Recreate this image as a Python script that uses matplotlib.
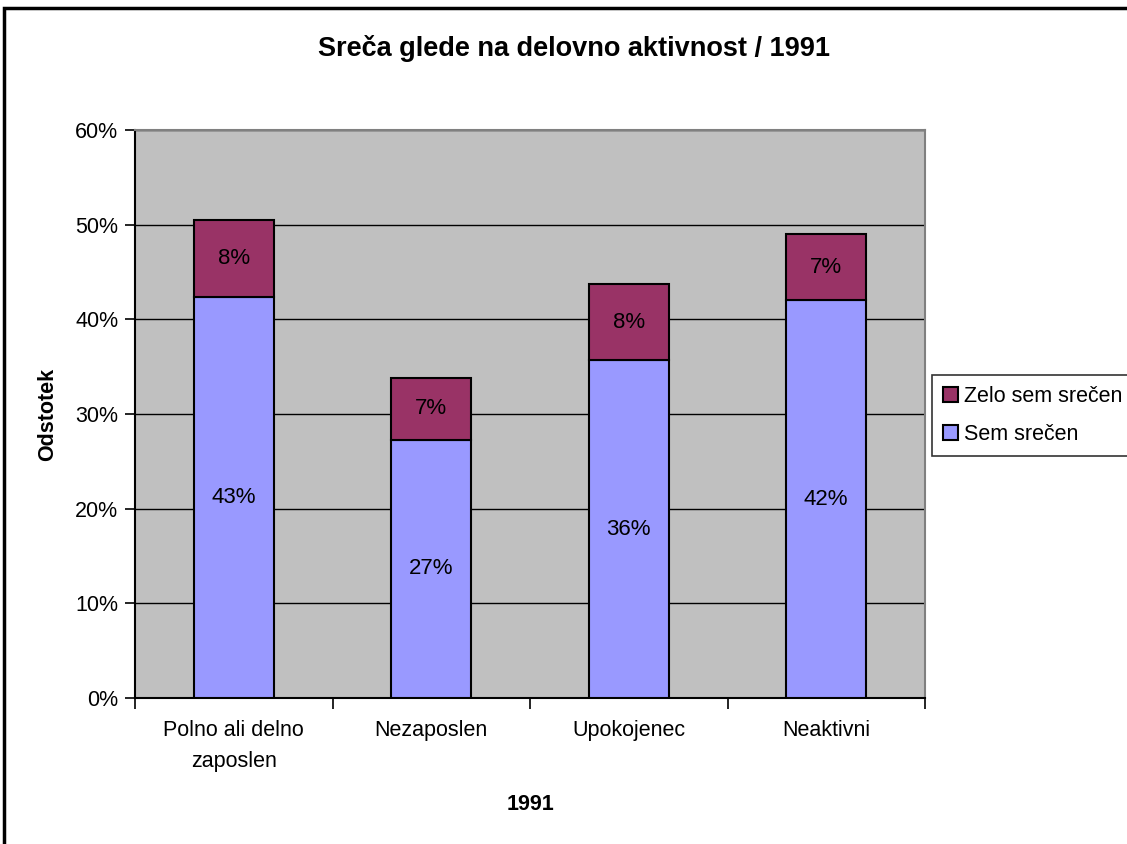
import numpy as np
import matplotlib
matplotlib.use('Agg')
import matplotlib.pyplot as plt
from matplotlib.patches import Rectangle

plt.rcParams['font.family'] = ['Liberation Sans', 'DejaVu Sans']

# data
categories = ['Polno ali delno\nzaposlen', 'Nezaposlen', 'Upokojenec', 'Neaktivni']
sem_srecen = [42.4, 27.3, 35.7, 42.0]
zelo_srecen = [8.1, 6.5, 8.0, 7.0]
labels_sem = ['43%', '27%', '36%', '42%']
labels_zelo = ['8%', '7%', '8%', '7%']
yticks = [0, 10, 20, 30, 40, 50, 60]

fig = plt.figure(figsize=(11.27, 8.44), dpi=100)
ax = fig.add_axes([135/1127, 1-698/844, 790/1127, 568/844])
ax.set_facecolor('#C0C0C0')

x = np.arange(len(categories))
w = 0.405
b1 = ax.bar(x, sem_srecen, w, color='#9999FF', edgecolor='black', linewidth=1.5,
            label='Sem srečen', zorder=3)
b2 = ax.bar(x, zelo_srecen, w, bottom=sem_srecen, color='#993366', edgecolor='black',
            linewidth=1.5, label='Zelo sem srečen', zorder=3)

for i in range(len(categories)):
    ax.text(x[i], sem_srecen[i]/2, labels_sem[i], ha='center', va='center', fontsize=16, zorder=4)
    ax.text(x[i], sem_srecen[i] + zelo_srecen[i]/2, labels_zelo[i], ha='center', va='center',
            fontsize=16, zorder=4)

ax.set_xlim(-0.5, len(categories) - 0.5)
ax.set_ylim(0, 60)
ax.set_yticks(yticks)
ax.set_yticklabels([str(v) + '%' for v in yticks], fontsize=15.5)
ax.yaxis.grid(True, color='black', linewidth=1)
ax.set_axisbelow(True)

ax.set_xticks(x)
ax.set_xticklabels(categories, fontsize=15.5, linespacing=1.6)
ax.set_xticks(np.arange(-0.5, len(categories)), minor=True)
ax.tick_params(axis='x', which='major', length=0, pad=16)
ax.tick_params(axis='x', which='minor', length=8, width=1.2)
ax.tick_params(axis='y', length=7, width=1.2, pad=5)

for s in ['top', 'right']:
    ax.spines[s].set_color('#808080')
    ax.spines[s].set_linewidth(1.5)
ax.spines['left'].set_linewidth(1.5)
ax.spines['bottom'].set_linewidth(1.5)

ax.set_ylabel('Odstotek', fontsize=15.5, fontweight='bold', labelpad=12)
ax.set_xlabel('1991', fontsize=15.5, fontweight='bold', labelpad=16)

fig.text(574/1127, 1-48/844, 'Sreča glede na delovno aktivnost / 1991', ha='center', va='center',
         fontsize=19.5, fontweight='bold')

handles = [b2, b1]
leg = fig.legend(handles, ['Zelo sem srečen', 'Sem srečen'], loc='lower left',
                 bbox_to_anchor=(932/1127, 1-456/844), frameon=True, fontsize=15.5,
                 fancybox=False, edgecolor='black', handlelength=0.7, handleheight=0.7,
                 handletextpad=0.3, labelspacing=0.8, borderpad=0.5, borderaxespad=0)
leg.get_frame().set_linewidth(1.2)

fig.patches.append(Rectangle((4/1127, -0.1), 1.2, 1 - 8/844 + 0.1, transform=fig.transFigure,
                             fill=False, edgecolor='black', linewidth=2.5))

fig.savefig('out.png', dpi=100)
